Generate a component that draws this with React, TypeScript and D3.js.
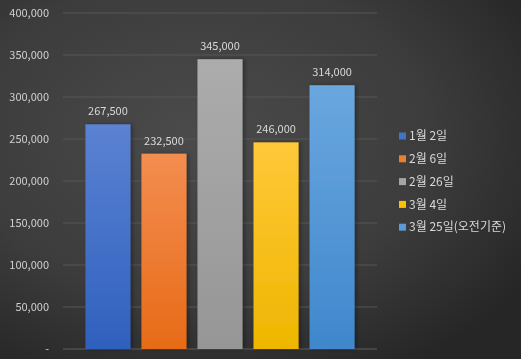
import React from "react";
import * as d3 from "d3";

const categories = ["1월 2일", "2월 6일", "2월 26일", "3월 4일", "3월 25일(오전기준)"];
const values = [267500, 232500, 345000, 246000, 314000];
const yTicks = [0, 50000, 100000, 150000, 200000, 250000, 300000, 350000, 400000];
const colorsTop = ["#5b82d3", "#f38d50", "#acacac", "#ffc838", "#6aa7df"];
const colorsBottom = ["#2f60bd", "#e76b17", "#969696", "#efb600", "#3f87cc"];
const legendColors = ["#4472c4", "#ed7d31", "#a5a5a5", "#ffc000", "#5b9bd5"];

const W = 521;
const H = 359;

export default function App() {
  const y = d3.scaleLinear().domain([0, 400000]).range([349, 13]);
  const x = d3
    .scaleBand<string>()
    .domain(categories)
    .range([63, 377])
    .paddingInner(0.196)
    .paddingOuter(0.4);
  const fmt = d3.format(",");
  const font = "'Noto Sans CJK KR', 'Noto Sans', sans-serif";

  return (
    <svg
      width={W}
      height={H}
      style={{ position: "fixed", left: 0, top: 0 }}
      fontFamily={font}
    >
      <defs>
        <radialGradient id="bg" cx="0.38" cy="0.38" r="0.75">
          <stop offset="0" stopColor="#4b4b4b" />
          <stop offset="0.6" stopColor="#3c3c3c" />
          <stop offset="1" stopColor="#262626" />
        </radialGradient>
        {categories.map((c, i) => (
          <linearGradient key={c} id={`g${i}`} x1="0" y1="0" x2="0" y2="1">
            <stop offset="0" stopColor={colorsTop[i]} />
            <stop offset="1" stopColor={colorsBottom[i]} />
          </linearGradient>
        ))}
        <filter id="sh" x="-20%" y="-10%" width="150%" height="120%">
          <feDropShadow dx="2" dy="0" stdDeviation="2" floodColor="#000" floodOpacity="0.35" />
        </filter>
      </defs>
      <rect x={0} y={0} width={W} height={H} fill="url(#bg)" />
      {yTicks.map((t) => (
        <g key={t}>
          <line
            x1={63}
            x2={377}
            y1={y(t)}
            y2={y(t)}
            stroke={t === 0 ? "#5e5e5e" : "#565656"}
            strokeWidth={1}
          />
          <text
            x={49}
            y={y(t)}
            dy="0.35em"
            textAnchor="end"
            fontSize={11}
            fill="#d0d0d0"
          >
            {t === 0 ? "-" : fmt(t)}
          </text>
        </g>
      ))}
      {categories.map((c, i) => (
        <g key={c}>
          <rect
            x={x(c)}
            y={y(values[i])}
            width={x.bandwidth()}
            height={y(0) - y(values[i])}
            fill={`url(#g${i})`}
            filter="url(#sh)"
          />
          <text
            x={(x(c) as number) + x.bandwidth() / 2}
            y={y(values[i]) - 9}
            textAnchor="middle"
            fontSize={11}
            fill="#d9d9d9"
          >
            {fmt(values[i])}
          </text>
        </g>
      ))}
      {categories.map((c, i) => {
        const cy = 136 + i * 22.8;
        return (
          <g key={`l${c}`}>
            <rect x={399} y={cy - 3.5} width={7} height={7} fill={legendColors[i]} />
            <text x={409} y={cy} dy="0.35em" fontSize={12} fill="#d9d9d9">
              {c}
            </text>
          </g>
        );
      })}
    </svg>
  );
}
